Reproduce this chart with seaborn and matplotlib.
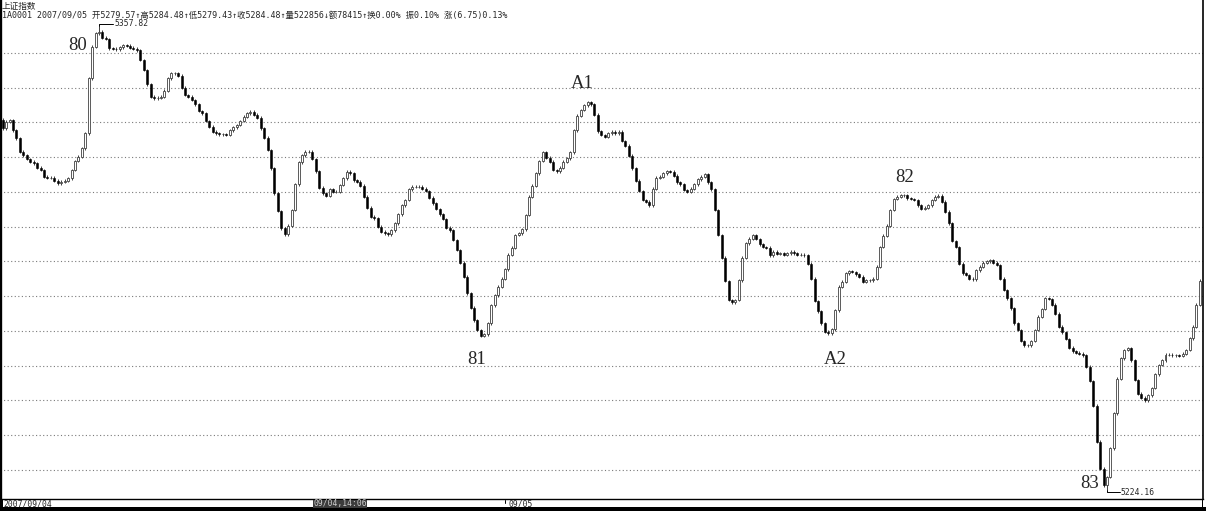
import numpy as np
import pandas as pd
import seaborn as sns
import matplotlib.pyplot as plt
from matplotlib.patches import Rectangle
from matplotlib.lines import Line2D

W, H = 1206, 511

# ---- data ----
first_open = 5330.8
closes = [
    5328.3, 5330.2, 5330.7, 5327.8, 5325.4, 5321.6, 5320.6, 5319.5, 5318.7, 5318.2,
    5317.0, 5316.3, 5314.4, 5314.1, 5314.1, 5313.2, 5312.5, 5313.0, 5313.2, 5313.9,
    5316.3, 5318.9, 5320.2, 5322.6, 5326.9, 5342.7, 5351.8, 5355.7, 5356.1, 5354.4,
    5354.0, 5351.3, 5351.2, 5351.1, 5351.6, 5352.3, 5352.1, 5351.5, 5351.2, 5350.8,
    5348.0, 5345.1, 5341.0, 5337.4, 5337.0, 5337.1, 5337.4, 5339.1, 5342.7, 5344.1,
    5344.1, 5343.5, 5340.0, 5337.9, 5337.4, 5336.5, 5335.2, 5333.3, 5332.6, 5330.4,
    5328.8, 5327.4, 5326.9, 5326.6, 5326.6, 5326.4, 5327.8, 5328.6, 5329.3, 5330.4,
    5331.7, 5332.6, 5333.1, 5332.2, 5331.4, 5328.3, 5325.6, 5322.1, 5316.8, 5309.6,
    5304.5, 5299.5, 5297.8, 5300.3, 5304.8, 5312.2, 5318.5, 5320.6, 5321.6, 5321.6,
    5319.5, 5316.0, 5311.2, 5309.6, 5308.9, 5310.8, 5310.1, 5310.1, 5312.0, 5313.9,
    5315.8, 5315.4, 5313.4, 5313.0, 5311.8, 5308.6, 5305.5, 5302.9, 5302.4, 5300.0,
    5298.6, 5298.1, 5297.8, 5299.0, 5301.0, 5303.6, 5306.2, 5307.7, 5310.8,
    5311.5, 5311.5, 5311.5, 5311.0, 5310.3, 5308.4, 5306.7, 5305.1, 5303.6, 5302.2,
    5299.7, 5299.0, 5296.2, 5293.3, 5289.7, 5285.6, 5280.8, 5276.7, 5273.1, 5270.3,
    5268.6, 5269.0, 5272.2, 5277.4, 5280.3, 5282.7, 5285.1, 5287.8, 5292.0, 5294.0,
    5297.6, 5298.1, 5299.3, 5303.4, 5308.6, 5311.8, 5315.4, 5318.9, 5321.4, 5319.9,
    5318.7, 5316.3, 5316.0, 5317.0, 5318.7, 5319.7, 5321.4, 5327.8, 5332.0, 5333.6,
    5335.0, 5335.8, 5335.2, 5332.2, 5327.5, 5326.4, 5325.9, 5326.9,
    5327.4, 5326.9, 5327.4, 5324.7, 5323.3, 5320.4, 5316.8, 5313.2, 5310.3, 5307.7,
    5307.2, 5306.2, 5311.0, 5314.1, 5314.4, 5315.4, 5316.0, 5315.8, 5314.7, 5312.8,
    5312.2, 5310.6, 5310.1, 5311.0, 5312.2, 5313.7, 5314.4, 5315.1, 5312.8, 5310.8,
    5304.8, 5297.6, 5291.1, 5284.4, 5278.9, 5278.2, 5278.9, 5284.6, 5291.1, 5295.2,
    5296.6, 5297.6, 5296.5, 5294.9, 5294.2, 5294.0, 5291.8, 5292.8, 5292.2, 5292.4,
    5292.0, 5292.3, 5292.8, 5292.3, 5292.0, 5292.0, 5291.8, 5289.4,
    5285.1, 5278.6, 5275.7, 5272.2, 5269.8, 5269.3, 5270.5, 5276.0, 5282.7, 5284.2,
    5286.6, 5287.2, 5287.0, 5286.3, 5285.6, 5284.2, 5284.6, 5284.6, 5285.1, 5288.5,
    5294.2, 5297.4, 5300.3, 5304.8, 5308.0, 5308.6, 5309.1, 5309.1, 5308.2, 5308.0,
    5307.7, 5306.2, 5305.1, 5305.5, 5306.2, 5307.7, 5308.6, 5308.9, 5307.2, 5304.3,
    5301.0, 5295.9, 5294.2, 5289.4, 5286.6, 5286.1, 5285.1, 5284.9, 5287.5, 5288.5,
    5289.7, 5290.1, 5290.4, 5289.7, 5289.0, 5285.1, 5281.8, 5279.4,
    5276.5, 5272.2, 5270.3, 5267.1, 5265.9, 5265.9, 5267.1, 5270.3, 5274.1, 5276.3,
    5279.4, 5279.2, 5277.6, 5275.0, 5271.2, 5269.6, 5267.7, 5265.2, 5264.2, 5263.8,
    5263.5, 5263.0, 5259.7, 5255.6, 5248.5, 5238.1, 5230.4, 5225.6, 5228.0, 5236.2,
    5246.3, 5256.3, 5262.1, 5264.5, 5265.0, 5261.6, 5255.9, 5252.0, 5250.8, 5250.1,
    5251.5, 5253.6, 5257.5, 5260.2, 5261.6, 5263.2, 5263.2, 5263.0, 5263.0, 5262.9,
    5263.5, 5264.5, 5267.9, 5271.2, 5277.6, 5284.48,
]
peak_idx, peak_high = 28, 5357.82
trough_idx, trough_low = 321, 5224.16
grid_prices = list(range(5230, 5351, 10))

wave_labels = ["80", "A1", "81", "82", "A2", "83"]
wave_label_px = [(78, 45), (582, 83), (477, 360), (905, 178), (835, 359), (1090, 483)]

header_name = "上证指数"
header_quote = ("1A0001 2007/09/05 开5279.57↑高5284.48↑低5279.43↑收5284.48↑"
                "量522856↓额78415↑换0.00% 振0.10% 涨(6.75)0.13%")
date_labels = ["2007/09/04", "09/04,14:06", "09/05"]


def px(x, y):
    # pixel position (from top-left) -> figure fraction
    return x / W, 1 - y / H


sns.set_theme(style="white")
plt.rcParams['font.family'] = ['DejaVu Sans Mono', 'Noto Sans CJK SC']

df = pd.DataFrame({"close": closes})
df["open"] = df["close"].shift(1).fillna(first_open)
df["i"] = np.arange(len(df))
df["up"] = df["close"] >= df["open"]
df["top"] = df[["open", "close"]].max(axis=1)
df["bot"] = df[["open", "close"]].min(axis=1)

fig = plt.figure(figsize=(W / 100, H / 100), dpi=100)
fig.patch.set_facecolor("white")
ax = fig.add_axes([0, 12 / H, 1203 / W, 499 / H])
ax.set_facecolor("white")

# grid
for p in grid_prices:
    ax.axhline(p, color="#7a7a7a", lw=0.8, ls=(0, (1, 2.2)), zorder=0)

# candles
wick = 0.4
body_w = 0.58
hi = df["top"] + wick
lo = df["bot"] - wick
hi[peak_idx] = peak_high
lo[trough_idx] = trough_low
ax.vlines(df["i"], lo, hi, color="#202020", lw=0.6, zorder=2)

up = df[df["up"]]
dn = df[~df["up"]]
ax.bar(up["i"], up["close"] - up["open"], bottom=up["open"], width=body_w,
       facecolor="white", edgecolor="#404040", linewidth=0.6, zorder=3)
ax.bar(dn["i"], dn["close"] - dn["open"], bottom=dn["open"], width=body_w,
       facecolor="black", edgecolor="black", linewidth=0.4, zorder=3)

ax.set_xlim(-0.785, 348.9)
ax.set_ylim(5221.65, 5365.25)
ax.set_xticks([])
ax.set_yticks([])
ax.spines["top"].set_visible(False)
ax.spines["left"].set_linewidth(2.4)
ax.spines["bottom"].set_linewidth(1.0)
ax.spines["right"].set_linewidth(1.2)
for s in ["left", "bottom", "right"]:
    ax.spines[s].set_color("black")

# extreme value callouts
ax.plot([peak_idx, peak_idx, peak_idx + 4.2], [peak_high, peak_high + 0.6, peak_high + 0.6],
        color="black", lw=0.7, zorder=4)
ax.text(peak_idx + 4.4, peak_high + 0.6, f"{peak_high:.2f}", fontsize=5.8, va="center", ha="left")
ax.plot([trough_idx, trough_idx, trough_idx + 3.8], [trough_low, trough_low - 0.5, trough_low - 0.5],
        color="black", lw=0.7, zorder=4)
ax.text(trough_idx + 4.0, trough_low - 0.5, f"{trough_low:.2f}", fontsize=5.8, va="center", ha="left")

# wave labels
for lab, (x, y) in zip(wave_labels, wave_label_px):
    fig.text(*px(x, y), lab, fontsize=13.5, family="Liberation Serif", ha="center", va="center")

# header
fig.text(*px(2, 6), header_name, fontsize=6.2, va="center", ha="left")
fig.text(*px(2, 15.5), header_quote, fontsize=6.0, va="center", ha="left")

# bottom date bar
fig.patches.append(Rectangle((0, 0), 1, 4 / H, transform=fig.transFigure,
                             facecolor="black", edgecolor="none"))
fig.patches.append(Rectangle(px(0, 511), 2.5 / W, 12 / H, transform=fig.transFigure,
                             facecolor="black", edgecolor="none"))
fig.patches.append(Rectangle(px(1202, 511), 1.2 / W, 12 / H, transform=fig.transFigure,
                             facecolor="black", edgecolor="none"))
fig.patches.append(Rectangle(px(313, 507.5), 54 / W, 8 / H, transform=fig.transFigure,
                             facecolor="#3c3c3c", edgecolor="none"))
fig.text(*px(3, 503.5), date_labels[0], fontsize=5.8, va="center", ha="left")
fig.text(*px(340, 503.5), date_labels[1], fontsize=5.8, va="center", ha="center", color="#cfcfcf")
fig.text(*px(508, 503.5), date_labels[2], fontsize=5.8, va="center", ha="left")
fig.lines.append(Line2D([505 / W, 505 / W], [1 - 500 / H, 1 - 503 / H], transform=fig.transFigure,
                        color="black", lw=0.7))

fig.savefig("out.png", dpi=100)
